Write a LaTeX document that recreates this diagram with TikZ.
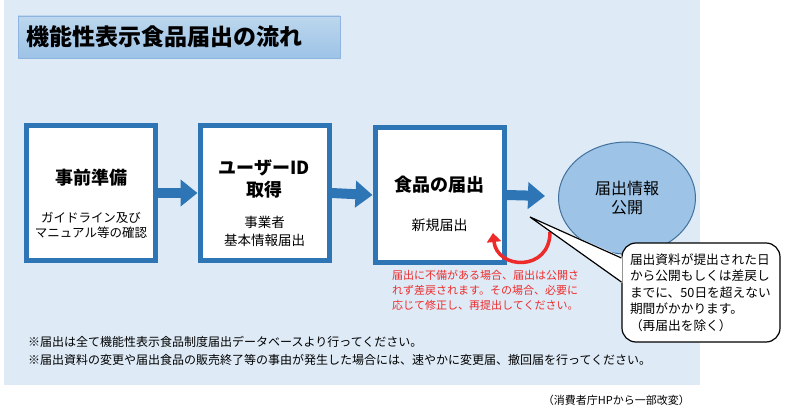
\documentclass[tikz,border=0pt]{standalone}
\usepackage{fontspec}
\setmainfont{Noto Sans CJK JP}
\usetikzlibrary{arrows.meta,shapes.geometric}
\definecolor{bgblue}{HTML}{DEEBF7}
\definecolor{bartop}{HTML}{BDD7EE}
\definecolor{barbottom}{HTML}{9DC3E6}
\definecolor{barline}{HTML}{8FB4E0}
\definecolor{boxblue}{HTML}{2E75B6}
\definecolor{pubfill}{HTML}{9DC3E6}
\definecolor{publine}{HTML}{41719C}
\definecolor{backred}{HTML}{EE2B2B}
\tikzset{
  stepbox/.style={draw=boxblue, line width=5pt, fill=white, minimum width=129pt, minimum height=135pt},
  flow/.style={draw=boxblue, line width=10pt, -{Triangle[length=17pt,width=26pt]}},
  headtext/.style={align=center, font=\fontsize{18pt}{22pt}\selectfont\bfseries},
  subtext/.style={align=center, font=\fontsize{13pt}{16pt}\selectfont},
}
\begin{document}
\begin{tikzpicture}[x=1pt, y=-1pt]
      \useasboundingbox (0,0) rectangle (790,417);
      \fill[bgblue] (4,0) rectangle (700,385);
      \node[anchor=west, top color=bartop, bottom color=barbottom, draw=barline, text width=306pt, inner xsep=8pt, minimum height=42pt, align=left, font=\fontsize{23pt}{26pt}\selectfont\bfseries] (title) at (18,37) {機能性表示食品届出の流れ};
      \draw
        (91,193) node[stepbox] (prep){}
        (264.5,193) node[stepbox] (uid){}
        (439.5,195) node[stepbox] (food){}
        (627,198) node[ellipse, draw=publine, line width=1pt, fill=pubfill, minimum width=137pt, minimum height=112pt, align=center, font=\fontsize{16pt}{19pt}\selectfont] (pub){届出情報\\公開};
      \coordinate (pubin) at (545,196);
      \begin{scope}[flow]
        \draw (prep.east) to (uid.west);
        \draw (uid.east) to (food.west);
        \draw (food.east) to (pubin);
      \end{scope}
      \node[headtext] (prephead) at (91,178) {事前準備};
      \node[subtext, font=\fontsize{12.5pt}{15pt}\selectfont] (prepsub) at (91,225.5) {ガイドライン及び\\マニュアル等の確認};
      \node[headtext] (uidhead) at (264.5,179) {ユーザーID\\取得};
      \node[subtext, font=\fontsize{13.5pt}{18pt}\selectfont] (uidsub) at (264.5,231) {事業者\\基本情報届出};
      \node[headtext] (foodhead) at (439.5,185) {食品の届出};
      \node[subtext, font=\fontsize{14pt}{16pt}\selectfont] (foodsub) at (439.5,225) {新規届出};
      \coordinate (redstart) at (550,232);
      \coordinate (redend) at (493,233);
      \draw[backred, line width=3.5pt, -{Triangle[length=9pt,width=14pt]}] (redstart) .. controls (550,272) and (497,270) .. (redend);
      \node[anchor=north west, align=left, text=backred, inner sep=0pt, font=\fontsize{11pt}{15pt}\selectfont] (backnote) at (392,270) {届出に不備がある場合、届出は公開さ\\れず差戻されます。その場合、必要に\\応じて修正し、再提出してください。};
      \node[draw, line width=1.2pt, fill=white, rounded corners=14pt, text width=142pt, inner xsep=8pt, minimum height=99pt, align=left, font=\fontsize{12.7pt}{16.5pt}\selectfont] (callout) at (701,292.5) {届出資料が提出された日\\から公開もしくは差戻し\\までに、50日を超えない\\期間がかかります。\\（再届出を除く）};
      \coordinate (tip) at (530,217);
      \fill[white] (tip) -- ([xshift=1pt,yshift=35.5pt]callout.west) -- ([xshift=1pt,yshift=9.5pt]callout.west) -- cycle;
      \draw[line width=1.2pt] ([yshift=34.5pt]callout.west) -- (tip) -- ([yshift=10.5pt]callout.west);
      \node[anchor=north west, align=left, inner sep=0pt, font=\fontsize{12pt}{18pt}\selectfont] (notes) at (28,336) {※届出は全て機能性表示食品制度届出データベースより行ってください。\\※届出資料の変更や届出食品の販売終了等の事由が発生した場合には、速やかに変更届、撤回届を行ってください。};
      \node[anchor=east, inner sep=0pt, font=\fontsize{11pt}{13pt}\selectfont] (source) at (690,400) {（消費者庁HPから一部改変）};
    \end{tikzpicture}
\end{document}
